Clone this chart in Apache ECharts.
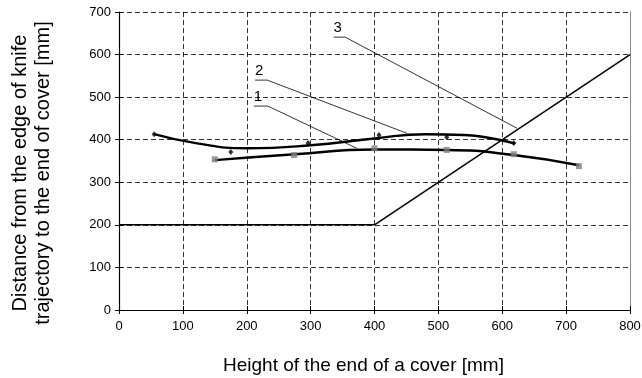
<!DOCTYPE html>
<html>
<head>
<meta charset="utf-8">
<script src="https://cdn.jsdelivr.net/npm/echarts@6/dist/echarts.min.js"></script>
<style>
  html, body { margin: 0; padding: 0; background: #fff; }
  #chart { width: 642px; height: 378px; }
</style>
</head>
<body>
<div id="chart"></div>
<script>
// measured points, series 1 (grey squares)
const s1X = [150, 274, 400, 513, 618, 720];
const s1Y = [354, 364, 380, 376, 366, 338];
// trend curve 1
const t1X = [150, 275, 400, 513, 618, 720];
const t1Y = [352, 366, 377, 376, 364, 340];
// measured points, series 2 (black diamonds)
const s2X = [55, 175, 296, 407, 513, 618];
const s2Y = [413, 371, 392, 411, 406, 392];
// trend curve 2
const t2X = [55, 120, 200, 300, 400, 480, 540, 620];
const t2Y = [413, 392, 380, 387, 403, 413, 411, 391];
// line 3
const l3X = [0, 400, 800];
const l3Y = [200, 200, 600];
// leader lines for labels 1, 2, 3
const lead1X = [211, 233, 372];
const lead1Y = [479, 479, 380];
const lead2X = [213, 232, 451];
const lead2Y = [540, 540, 415];
const lead3X = [336, 354, 623];
const lead3Y = [641, 641, 427];
const xTicks = [0, 100, 200, 300, 400, 500, 600, 700, 800];
const yTicks = [0, 100, 200, 300, 400, 500, 600, 700];

const zip = (a, b) => a.map((v, i) => [v, b[i]]);
const font = "'Liberation Sans', Arial, sans-serif";

const leader = (xs, ys, txt) => ({
  type: 'line',
  data: zip(xs, ys).map((p, i) => i === 0 ? {
    value: p,
    label: {
      show: true, formatter: txt, position: 'top', align: 'left', distance: 2,
      fontFamily: font, fontSize: 15, color: '#000'
    }
  } : p),
  symbol: 'circle',
  symbolSize: 0,
  showSymbol: true,
  lineStyle: { color: '#000', width: 0.8 },
  silent: true,
  z: 3
});

const chart = echarts.init(document.getElementById('chart'));
chart.setOption({
  animation: false,
  backgroundColor: '#fff',
  grid: { left: 119, right: 12, top: 12, bottom: 68, outerBoundsMode: 'none', containLabel: false },
  xAxis: [{
    type: 'value', min: xTicks[0], max: xTicks[xTicks.length - 1], interval: 100,
    name: 'Height of the end of a cover [mm]',
    nameLocation: 'middle', nameGap: 46,
    nameTextStyle: { fontFamily: font, fontSize: 19, color: '#000', padding: [0, 22, 0, 0] },
    axisLine: { show: true, lineStyle: { color: '#000', width: 1.2 } },
    axisTick: { show: true, length: 4, lineStyle: { color: '#000' } },
    axisLabel: { fontFamily: font, fontSize: 13, color: '#000', margin: 10 },
    splitLine: { show: true, lineStyle: { color: '#000', type: [5, 3], width: 0.8 } }
  }, {
    type: 'value', min: 0, max: 800, interval: 100, position: 'bottom',
    axisLine: { show: false },
    axisTick: { show: true, inside: true, length: 4, lineStyle: { color: '#000' } },
    axisLabel: { show: false }, splitLine: { show: false }
  }],
  yAxis: [{
    type: 'value', min: yTicks[0], max: yTicks[yTicks.length - 1], interval: 100,
    name: 'Distance from the edge of knife\ntrajectory to the end of cover [mm]',
    nameLocation: 'middle', nameGap: 64,
    nameTextStyle: { fontFamily: font, fontSize: 20, color: '#000', lineHeight: 23, padding: [0, 24, 0, 0] },
    axisLine: { show: true, lineStyle: { color: '#000', width: 1.2 } },
    axisTick: { show: true, length: 4, lineStyle: { color: '#000' } },
    axisLabel: { fontFamily: font, fontSize: 13, color: '#000', margin: 8 },
    splitLine: { show: true, lineStyle: { color: '#000', type: [5, 3], width: 0.8 } }
  }, {
    type: 'value', min: 0, max: 700, interval: 100, position: 'left',
    axisLine: { show: false },
    axisTick: { show: true, inside: true, length: 4, lineStyle: { color: '#000' } },
    axisLabel: { show: false }, splitLine: { show: false }
  }, {
    type: 'value', min: 0, max: 700, interval: 100, position: 'right',
    axisLine: { show: true, lineStyle: { color: '#888', width: 1 } },
    axisTick: { show: false }, axisLabel: { show: false }, splitLine: { show: false }
  }],
  series: [
    {
      type: 'line', data: zip(l3X, l3Y), symbol: 'none',
      lineStyle: { color: '#000', width: 1.5 }, z: 4
    },
    {
      type: 'line', data: zip(t1X, t1Y), smooth: 0.5, symbol: 'none',
      lineStyle: { color: '#000', width: 2.4 }, z: 5
    },
    {
      type: 'line', data: zip(t2X, t2Y), smooth: 0.5, symbol: 'none',
      lineStyle: { color: '#000', width: 2.4 }, z: 5
    },
    {
      type: 'scatter', data: zip(s1X, s1Y), symbol: 'rect', symbolSize: 6,
      itemStyle: { color: '#7f7f7f' }, z: 6
    },
    {
      type: 'scatter', data: zip(s2X, s2Y), symbol: 'diamond', symbolSize: [5, 6],
      itemStyle: { color: '#000' }, z: 6
    },
    leader(lead1X, lead1Y, '1'),
    leader(lead2X, lead2Y, '2'),
    leader(lead3X, lead3Y, '3')
  ]
});
</script>
</body>
</html>
